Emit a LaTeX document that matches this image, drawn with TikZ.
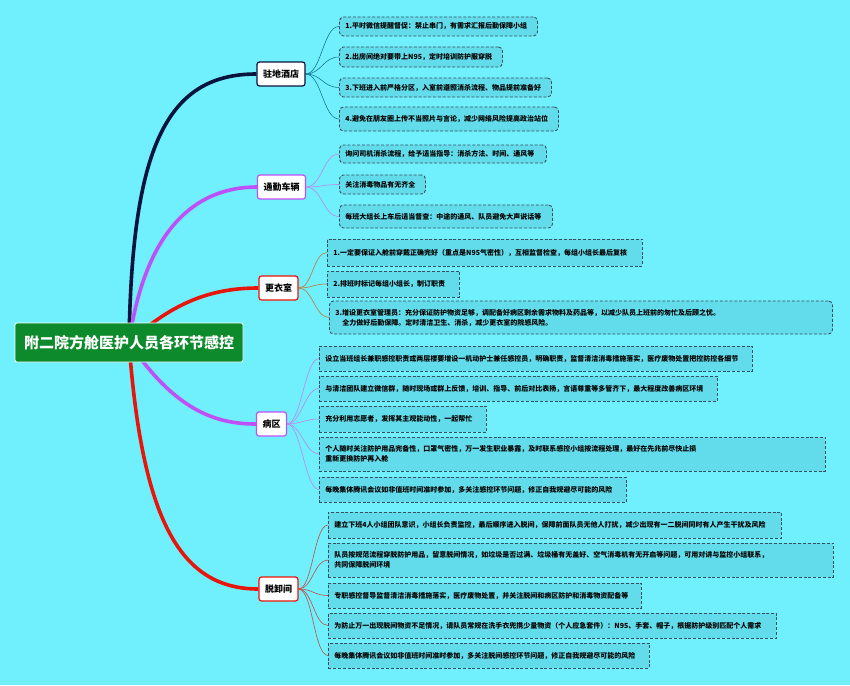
\documentclass[tikz,border=0pt]{standalone}
\usepackage{fontspec}
\setmainfont{Noto Sans CJK SC}
\usetikzlibrary{backgrounds}
\definecolor{bgCyan}{RGB}{112,240,252}
\definecolor{leafFill}{RGB}{98,220,234}
\definecolor{leafLine}{RGB}{58,78,98}
\definecolor{rootGreen}{RGB}{12,138,44}
\definecolor{mapNavy}{RGB}{8,20,62}
\definecolor{mapViolet}{RGB}{190,80,250}
\definecolor{mapRed}{RGB}{232,22,10}
\definecolor{twigTeal}{RGB}{22,120,150}
\definecolor{twigViolet}{RGB}{190,135,240}
\definecolor{twigBrown}{RGB}{190,120,50}
\definecolor{twigRed}{RGB}{190,80,70}

\begin{document}
\begin{tikzpicture}[x=1pt,y=-1pt,
        root/.style={draw=white,line width=0.8pt,fill=rootGreen,rounded corners=2pt,text=white,font=\fontsize{15}{17}\selectfont\bfseries,minimum width=228pt,minimum height=39pt},
        topic/.style={draw=#1,fill=white,line width=1.2pt,rounded corners=2.5pt,font=\fontsize{9}{10}\selectfont\bfseries,inner xsep=6pt,minimum height=24pt},
        leaf/.style={draw=leafLine,fill=leafFill,line width=0.9pt,dash pattern=on 3pt off 1.8pt,anchor=west,align=left,text width=#1pt-12pt,inner xsep=6pt,minimum height=25pt,font=\fontsize{7}{10}\selectfont\bfseries},
        soft/.style={rounded corners=4pt},
        trunk/.style={draw=#1,line width=3.6pt},
        twig/.style={draw=#1,line width=0.6pt}
      ]
        \useasboundingbox (0,0) rectangle (850,685);
        \node[root] (root) at (129,342.5) {附二院方舱医护人员各环节感控};
        % branches
        \node[topic=mapNavy] (hotel) at (281,74) {驻地酒店};
        \node[topic=mapViolet] (bus) at (281.5,187) {通勤车辆};
        \node[topic=mapRed] (locker) at (278.5,288) {更衣室};
        \node[topic=mapViolet] (ward) at (271.5,424) {病区};
        \node[topic=mapRed] (doff) at (278.5,589) {脱卸间};
        % hotel
        \node[leaf=198,soft,minimum height=19pt] (h1) at (339,26.5) {1.平时微信提醒督促：禁止串门，有需求汇报后勤保障小组};
        \node[leaf=163,soft,minimum height=20pt] (h2) at (339,57) {2.出房间绝对要带上N95，定时培训防护服穿脱};
        \node[leaf=212,soft,minimum height=19pt] (h3) at (339,87.5) {3.下班进入前严格分区，入室前遵照消杀流程、物品提前准备好};
        \node[leaf=219,soft,minimum height=24pt] (h4) at (339,119) {4.避免在朋友圈上传不当照片与言论，减少网络风险提高政治站位};
        % bus
        \node[leaf=207,soft,minimum height=18pt] (b1) at (339,154) {询问司机消杀流程，给予适当指导：消杀方法、时间、通风等};
        \node[leaf=86,soft,minimum height=19pt] (b2) at (339,184.5) {关注消毒物品有无齐全};
        \node[leaf=213,soft,minimum height=23pt] (b3) at (339,216.5) {每班大组长上车后适当督查：中途的通风、队员避免大声说话等};
        % locker room
        \node[leaf=315,minimum height=27pt] (l1) at (327,252.5) {1.一定要保证入舱前穿戴正确完好（重点是N95气密性），互相监督检查，每组小组长最后复核};
        \node[leaf=132,minimum height=26pt] (l2) at (327,284) {2.排班时标记每组小组长，制订职责};
        \node[leaf=503,soft,minimum height=33pt] (l3) at (329,317.5) {3.增设更衣室管理员：充分保证防护物资足够，调配备好病区剩余需求物料及药品等，以减少队员上班前的匆忙及后顾之忧。\\\hspace*{1em}全力做好后勤保障。定时清洁卫生、消杀，减少更衣室的院感风险。};
        % ward
        \node[leaf=433] (w1) at (319,358.5) {设立当班组长兼职感控职责或两层楼要增设一机动护士兼任感控员，明确职责，监督清洁消毒措施落实，医疗废物处置把控防控各细节};
        \node[leaf=398] (w2) at (319,388.5) {与清洁团队建立微信群，随时现场或群上反馈，培训、指导、前后对比表扬，言语尊重等多管齐下，最大程度改善病区环境};
        \node[leaf=167,minimum height=26pt] (w3) at (319,419) {充分利用志愿者，发挥其主观能动性，一起帮忙};
        \node[leaf=506,minimum height=34pt] (w4) at (319,454) {个人随时关注防护用品完备性，口罩气密性，万一发生职业暴露，及时联系感控小组按流程处理，最好在先兆前尽快止损\\重新更换防护再入舱};
        \node[leaf=307] (w5) at (319,489.5) {每晚集体腾讯会议如非值班时间准时参加，多关注感控环节问题，修正自我规避尽可能的风险};
        % doffing room
        \node[leaf=453,minimum height=26pt] (d1) at (328,525) {建立下班4人小组团队意识，小组长负责监控，最后顺序进入脱间，保障前面队员无他人打扰，减少出现有一二脱间同时有人产生干扰及风险};
        \node[leaf=505,minimum height=34pt] (d2) at (328,560) {队员按规范流程穿脱防护用品，留意脱间情况，如垃圾是否过满、垃圾桶有无盖好、空气消毒机有无开启等问题，可用对讲与监控小组联系，\\共同保障脱间环境};
        \node[leaf=313] (d3) at (328,595.5) {专职感控督导监督清洁消毒措施落实，医疗废物处置，并关注脱间和病区防护和消毒物资配备等};
        \node[leaf=448] (d4) at (328,625.5) {为防止万一出现脱间物资不足情况，请队员常规在洗手衣兜携少量物资（个人应急套件）：N95、手套、帽子，根据防护级别匹配个人需求};
        \node[leaf=321] (d5) at (328,655.5) {每晚集体腾讯会议如非值班时间准时参加，多关注脱间感控环节问题，修正自我规避尽可能的风险};
        \begin{pgfonlayer}{background}
          \fill[bgCyan] (0,0) rectangle (850,685);
          \draw[trunk=mapNavy] (root.center) .. controls (132,150) and (165,74) .. (hotel.west);
          \draw[trunk=mapViolet] (root.center) .. controls (145,230) and (195,187) .. (bus.west);
          \draw[trunk=mapRed] (root.center) .. controls (175,300) and (215,288) .. (locker.west);
          \draw[trunk=mapViolet] (root.center) .. controls (175,410) and (215,424) .. (ward.west);
          \draw[trunk=mapRed] (root.center) .. controls (142,520) and (180,589) .. (doff.west);
          \draw[twig=twigTeal] (hotel.east) .. controls +(16,0) and +(-16,0) .. (h1.west);
          \draw[twig=twigTeal] (hotel.east) .. controls +(16,0) and +(-16,0) .. (h2.west);
          \draw[twig=twigTeal] (hotel.east) .. controls +(16,0) and +(-16,0) .. (h3.west);
          \draw[twig=twigTeal] (hotel.east) .. controls +(16,0) and +(-16,0) .. (h4.west);
          \draw[twig=twigViolet] (bus.east) .. controls +(16,0) and +(-16,0) .. (b1.west);
          \draw[twig=twigViolet] (bus.east) .. controls +(16,0) and +(-16,0) .. (b2.west);
          \draw[twig=twigViolet] (bus.east) .. controls +(16,0) and +(-16,0) .. (b3.west);
          \draw[twig=twigBrown] (locker.east) .. controls +(14,0) and +(-14,0) .. (l1.west);
          \draw[twig=twigBrown] (locker.east) .. controls +(14,0) and +(-14,0) .. (l2.west);
          \draw[twig=twigBrown] (locker.east) .. controls +(14,0) and +(-14,0) .. (l3.west);
          \draw[twig=twigViolet] (ward.east) .. controls +(14,0) and +(-14,0) .. (w1.west);
          \draw[twig=twigViolet] (ward.east) .. controls +(14,0) and +(-14,0) .. (w2.west);
          \draw[twig=twigViolet] (ward.east) .. controls +(14,0) and +(-14,0) .. (w3.west);
          \draw[twig=twigViolet] (ward.east) .. controls +(14,0) and +(-14,0) .. (w4.west);
          \draw[twig=twigViolet] (ward.east) .. controls +(14,0) and +(-14,0) .. (w5.west);
          \draw[twig=twigRed] (doff.east) .. controls +(14,0) and +(-14,0) .. (d1.west);
          \draw[twig=twigRed] (doff.east) .. controls +(14,0) and +(-14,0) .. (d2.west);
          \draw[twig=twigRed] (doff.east) .. controls +(14,0) and +(-14,0) .. (d3.west);
          \draw[twig=twigRed] (doff.east) .. controls +(14,0) and +(-14,0) .. (d4.west);
          \draw[twig=twigRed] (doff.east) .. controls +(14,0) and +(-14,0) .. (d5.west);
        \end{pgfonlayer}
      \end{tikzpicture}
\end{document}
